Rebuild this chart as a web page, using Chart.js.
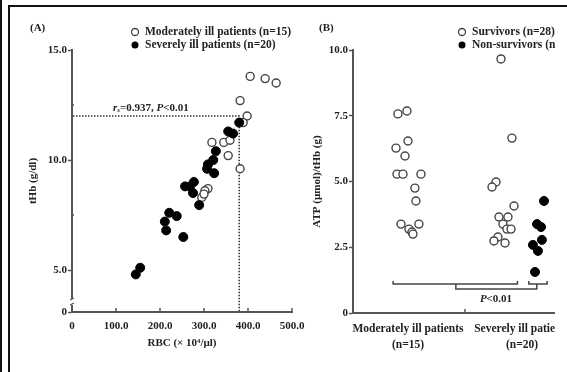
<!DOCTYPE html>
<html><head><meta charset="utf-8">
<script src="https://cdn.jsdelivr.net/npm/chart.js@4"></script>
<style>
html,body{margin:0;padding:0;background:#fff;overflow:hidden;width:567px;height:372px;}
#edge{position:absolute;left:0;top:0;width:2px;height:372px;background:#111;}
#frame{position:absolute;left:8px;top:5px;width:640px;height:420px;border:2px solid #111;box-sizing:border-box;}
#cA{position:absolute;left:0;top:0;}
#cB{position:absolute;left:290px;top:0;}
#clip{position:absolute;left:555px;top:7px;width:20px;height:370px;background:#fff;}
</style></head>
<body>
<div id="edge"></div><div id="frame"></div>
<canvas id="cA" width="320" height="372"></canvas>
<canvas id="cB" width="300" height="372"></canvas>
<div id="clip"></div>
<script>
// ---------- Panel A data ----------
const modRBC = [405,439,464,382,398,389,318,345,359,355,382,309,302,295,300];
const modTHb = [13.8,13.7,13.5,12.7,12.0,11.7,10.8,10.8,10.9,10.2,9.6,8.7,8.6,8.3,8.45];
const sevRBC = [145,155,211,214,221,238,253,257,268,275,277,289,307,309,323,327,321,355,366,380];
const sevTHb = [4.8,5.1,7.2,6.8,7.6,7.45,6.5,8.8,8.8,8.5,9.0,7.95,9.6,9.8,9.4,10.4,10.0,11.3,11.2,11.7];
const xTicksA = [0,100,200,300,400,500];
const yTicksA = [5,10,15];
const yMinorA = [7.5,12.5];
const cutRBC = 380, cutTHb = 12;
// ---------- Panel B data ----------
const groups = ['Moderately ill patients','Severely ill patients'];
const groupN = ['(n=15)','(n=20)'];
const modSurvPos = [0.912,0.991,0.895,1.0,0.974,0.904,0.956,1.114,1.061,1.070,0.939,1.096,1.009,1.035,1.044];
const modSurvATP = [7.57,7.68,6.27,6.54,5.97,5.28,5.28,5.28,4.75,4.26,3.38,3.38,3.19,3.08,3.0];
const sevSurvPos = [1.816,1.912,1.772,1.737,1.930,1.798,1.877,1.833,1.868,1.904,1.789,1.754,1.851];
const sevSurvATP = [9.66,6.65,4.98,4.79,4.07,3.65,3.65,3.38,3.19,3.19,2.89,2.74,2.66];
const sevDeadPos = [2.193,2.132,2.167,2.175,2.096,2.140,2.114];
const sevDeadATP = [4.26,3.38,3.27,2.78,2.59,2.36,1.56];
const yTicksB = [0,2.5,5,7.5,10];

const FONT = 'Liberation Serif';
Chart.defaults.font.family = FONT;
Chart.defaults.font.weight = 'bold';
Chart.defaults.font.size = 11;
Chart.defaults.color = '#222';
const AX = '#555';

const zip = (a,b) => a.map((v,i)=>({x:v,y:b[i]}));
const openDs = (label,data) => ({label,data,pointStyle:'circle',pointRadius:4,pointBackgroundColor:'#fff',pointBorderColor:'#444',pointBorderWidth:1.4,showLine:false,order:1});
const fillDs = (label,data) => ({label,data,pointStyle:'circle',pointRadius:4.5,pointBackgroundColor:'#000',pointBorderColor:'#000',pointBorderWidth:1,showLine:false,order:0});

function runs(ctx,x,y,parts){
  ctx.textBaseline='middle';ctx.textAlign='left';
  for(const p of parts){ctx.font=p.f;ctx.fillText(p.t,x,y+(p.dy||0));x+=ctx.measureText(p.t).width;}
}
function legendItem(ctx,x,y,filled,text){
  ctx.beginPath();ctx.arc(x,y,3.5,0,Math.PI*2);
  if(filled){ctx.fillStyle='#000';ctx.fill();}
  else{ctx.fillStyle='#fff';ctx.fill();ctx.lineWidth=1.3;ctx.strokeStyle='#444';ctx.stroke();}
  ctx.fillStyle='#222';ctx.font='bold 11.5px '+FONT;ctx.textBaseline='middle';ctx.textAlign='left';
  ctx.fillText(text,x+10,y);
}

const plugA = {
  id:'plugA',
  beforeDatasetsDraw(c){
    const {ctx}=c,x=c.scales.x,y=c.scales.y;
    const px=x.getPixelForValue(cutRBC),py=y.getPixelForValue(cutTHb);
    ctx.save();ctx.strokeStyle='#333';ctx.lineWidth=1.5;ctx.setLineDash([1.5,1.5]);
    ctx.beginPath();ctx.moveTo(x.left+1,py);ctx.lineTo(px,py);ctx.lineTo(px,y.bottom-1);ctx.stroke();ctx.restore();
  },
  afterDraw(c){
    const {ctx}=c,x=c.scales.x,y=c.scales.y;
    ctx.save();
    ctx.strokeStyle=AX;ctx.lineWidth=1.5;
    for(const v of xTicksA.slice(1)){const p=x.getPixelForValue(v);ctx.beginPath();ctx.moveTo(p,y.bottom);ctx.lineTo(p,y.bottom-4);ctx.stroke();}
    for(const v of yMinorA){const p=y.getPixelForValue(v);ctx.beginPath();ctx.moveTo(x.left,p);ctx.lineTo(x.left+2,p);ctx.stroke();}
    const bp=y.bottom-10;
    ctx.fillStyle='#fff';ctx.fillRect(x.left-2,bp-3,4,6);
    ctx.lineWidth=1.2;
    ctx.beginPath();ctx.moveTo(x.left-2,bp-2);ctx.lineTo(x.left+2,bp-4);ctx.stroke();
    ctx.beginPath();ctx.moveTo(x.left-2,bp+3);ctx.lineTo(x.left+2,bp+1);ctx.stroke();
    ctx.fillStyle='#222';
    const py=y.getPixelForValue(cutTHb);
    runs(ctx,113,py-8,[
      {t:'r',f:'italic bold 11px '+FONT},
      {t:'s',f:'italic bold 7px '+FONT,dy:2},
      {t:'=0.937, ',f:'bold 11px '+FONT},
      {t:'P',f:'italic bold 11px '+FONT},
      {t:'<0.01',f:'bold 11px '+FONT}]);
    ctx.font='bold 11px '+FONT;ctx.textBaseline='middle';ctx.fillText('(A)',30,28);
    legendItem(ctx,135,32,false,'Moderately ill patients (n=15)');
    legendItem(ctx,135,45,true,'Severely ill patients (n=20)');
    ctx.restore();
  }
};

new Chart(document.getElementById('cA'),{
  type:'scatter',
  data:{datasets:[openDs('Moderately ill patients (n=15)',zip(modRBC,modTHb)),fillDs('Severely ill patients (n=20)',zip(sevRBC,sevTHb))]},
  options:{
    responsive:false,animation:false,devicePixelRatio:1,
    layout:{padding:{top:50,left:0,right:28,bottom:0}},
    plugins:{legend:{display:false},tooltip:{enabled:false}},
    scales:{
      x:{type:'linear',min:0,max:500,
        afterBuildTicks:s=>{s.ticks=xTicksA.map(v=>({value:v}));},
        afterFit:s=>{s.height=60;},
        ticks:{padding:8,maxRotation:0,autoSkip:false,callback:v=>v===0?'0':v.toFixed(1)},
        grid:{display:true,drawOnChartArea:false,drawTicks:false},
        border:{color:AX,width:2},
        title:{display:true,text:'RBC (× 10⁴/µl)',padding:{top:0,bottom:22},font:{size:11,weight:'bold'}}
      },
      y:{type:'linear',min:5-42/22,max:15,
        afterBuildTicks:s=>{s.ticks=[s.min,...yTicksA].map(v=>({value:v}));},
        afterFit:s=>{s.width=72;},
        ticks:{padding:1,autoSkip:false,callback:function(v){return v<5?'0':v.toFixed(1);}},
        grid:{display:true,drawOnChartArea:false,drawTicks:true,tickLength:4,color:AX,tickWidth:1.5},
        border:{color:AX,width:2},
        title:{display:true,text:'tHb (g/dl)',padding:{top:27,bottom:0},font:{size:11,weight:'bold'}}
      }
    }
  },
  plugins:[plugA]
});

const plugB = {
  id:'plugB',
  afterDraw(c){
    const {ctx}=c,x=c.scales.x,y=c.scales.y;
    const X=v=>x.getPixelForValue(v),Y=v=>y.getPixelForValue(v);
    ctx.save();
    ctx.strokeStyle=AX;ctx.lineWidth=1.5;
    ctx.beginPath();ctx.moveTo(X(1.5),y.bottom);ctx.lineTo(X(1.5),y.bottom-4);ctx.stroke();
    ctx.strokeStyle='#444';ctx.lineWidth=1.5;
    const hi=1.22,mid=1.1,lo=0.91;
    const br=(a,b)=>{ctx.beginPath();ctx.moveTo(X(a),Y(hi));ctx.lineTo(X(a),Y(mid));ctx.lineTo(X(b),Y(mid));ctx.lineTo(X(b),Y(hi));ctx.stroke();};
    br(0.87,1.96);br(2.06,2.22);
    ctx.beginPath();ctx.moveTo(X(1.42),Y(mid));ctx.lineTo(X(1.42),Y(lo));ctx.lineTo(X(2.13),Y(lo));ctx.lineTo(X(2.13),Y(mid));ctx.stroke();
    ctx.fillStyle='#222';
    ctx.font='italic bold 11px '+FONT;const a=ctx.measureText('P').width;
    ctx.font='bold 11px '+FONT;const w1=a+ctx.measureText('<0.01').width;
    runs(ctx,206-w1/2,y.bottom-14,[{t:'P',f:'italic bold 11px '+FONT},{t:'<0.01',f:'bold 11px '+FONT}]);
    ctx.font='bold 11px '+FONT;ctx.textBaseline='middle';ctx.fillText('(B)',29,28);
    legendItem(ctx,172,32,false,'Survivors (n=28)');
    legendItem(ctx,172,45,true,'Non-survivors (n=7)');
    ctx.restore();
  }
};

new Chart(document.getElementById('cB'),{
  type:'scatter',
  data:{datasets:[
    openDs('Survivors (n=28)',zip(modSurvPos,modSurvATP).concat(zip(sevSurvPos,sevSurvATP))),
    fillDs('Non-survivors (n=7)',zip(sevDeadPos,sevDeadATP))]},
  options:{
    responsive:false,animation:false,devicePixelRatio:1,
    layout:{padding:{top:50,left:0,right:11,bottom:0}},
    plugins:{legend:{display:false},tooltip:{enabled:false}},
    scales:{
      x:{type:'linear',min:0.518,max:2.5,
        afterBuildTicks:s=>{s.ticks=[1,2].map(v=>({value:v}));},
        afterFit:s=>{s.height=59;},
        ticks:{padding:8,maxRotation:0,minRotation:0,autoSkip:false,font:{size:11.5,lineHeight:1.4},
          callback:v=>[groups[v-1],groupN[v-1]]},
        grid:{display:true,drawOnChartArea:false,drawTicks:false},
        border:{color:AX,width:2}
      },
      y:{type:'linear',min:0,max:10,
        afterBuildTicks:s=>{s.ticks=yTicksB.map(v=>({value:v}));},
        afterFit:s=>{s.width=63;},
        ticks:{padding:1,autoSkip:false,callback:v=>v===0?'0':v.toFixed(1)},
        grid:{display:true,drawOnChartArea:false,drawTicks:true,tickLength:4,color:AX,tickWidth:1.5},
        border:{color:AX,width:2},
        title:{display:true,text:'ATP (µmol)/tHb (g)',padding:{top:21,bottom:0},font:{size:11,weight:'bold'}}
      }
    }
  },
  plugins:[plugB]
});
</script>
</body></html>
